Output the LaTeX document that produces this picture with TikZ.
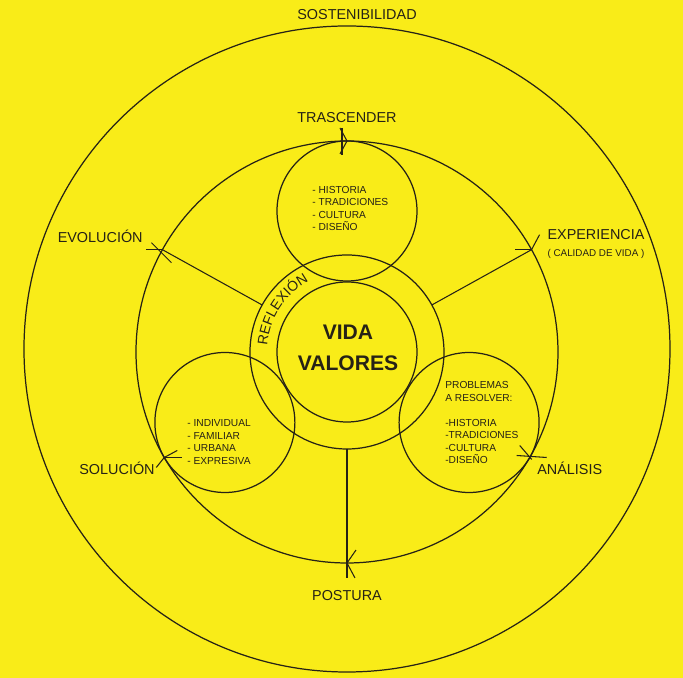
\documentclass[tikz,border=0pt]{standalone}
\usepackage{fontspec}
\setmainfont{Liberation Sans}
\usetikzlibrary{decorations.text}

\definecolor{paper}{RGB}{249,236,24}
\definecolor{ink}{RGB}{38,34,22}

\tikzset{
  circ/.style={circle, draw=ink, line width=0.7pt, inner sep=0pt, outer sep=0pt},
  tick/.style={draw=ink, line width=0.6pt},
  lbl/.style={text=ink, inner sep=0pt, font=\fontsize{8.2}{10}\selectfont},
  lst/.style={text=ink, inner sep=0pt, align=left, anchor=north west, font=\fontsize{5.8}{7.1}\selectfont}
}

\begin{document}
\begin{tikzpicture}[x=0.2mm, y=0.2mm]
    % Background
    \fill[paper] (-347,-326) rectangle (336,352);
    \useasboundingbox (-347,-326) rectangle (336,352);

    % Circles
    \node[circ, minimum size=129.2mm] (outer) at (0,3) {};
    \node[circ, minimum size=84.4mm] (mid) at (0,0) {};
    \node[circ, minimum size=38.8mm] (ring) at (0,0) {};
    \node[circ, minimum size=28mm] (core) at (0,0) {};
    \foreach \a/\n in {90/sTop, 210/sLeft, 330/sRight}
        \node[circ, minimum size=28mm] (\n) at (\a:141) {};

    % Spokes
    \foreach \a in {151, 29}
        \draw[tick] (ring.\a) -- (mid.\a);
    \draw[tick] (ring.270) -- (mid.270) -- ++(0,-15);

    % Arrow marks on the circle
    \draw[tick] ([shift={(-5,13)}]mid.90) -- ++(0,-27);
    \draw[tick] ([shift={(-7,13)}]mid.90) -- (mid.90) -- ++(-7,-13);
    \draw[tick] (mid.151) -- ++(-16,0);
    \draw[tick] ([shift={(-11,7)}]mid.151) -- ++(20,-20);
    \draw[tick] (mid.29) -- ++(-17,0);
    \draw[tick] (mid.29) -- ++(8,15);
    \draw[tick] ([shift={(-13,2)}]mid.330) -- ++(30,-2);
    \draw[tick] ([shift={(-10,12)}]mid.330) -- ++(12,-14);
    \draw[tick] ([shift={(-8,-10)}]mid.210) -- (mid.210) -- ++(13,7);
    \draw[tick] (mid.210) -- ++(18,0);
    \draw[tick] ([shift={(9,13)}]mid.270) -- (mid.270) -- ++(8,-15);

    % Labels
    \node[lbl, anchor=base] (lSost) at (10,332) {SOSTENIBILIDAD};
    \node[lbl, anchor=base] (lTras) at (0,229) {TRASCENDER};
    \node[lbl, anchor=base east] (lEvol) at (-204,109) {EVOLUCIÓN};
    \node[lbl, anchor=base] (lExpe) at (249,112) {EXPERIENCIA};
    \node[lbl, anchor=base, font=\fontsize{5.6}{7}\selectfont] (lCali) at (249,95.5) {( CALIDAD DE VIDA )};
    \node[lbl, anchor=base east] (lSolu) at (-192,-123) {SOLUCIÓN};
    \node[lbl, anchor=base west] (lAnal) at (190,-123) {ANÁLISIS};
    \node[lbl, anchor=base] (lPost) at (0,-249) {POSTURA};

    % Centre
    \node[text=ink, inner sep=0pt, align=center, font=\fontsize{12}{17.6}\selectfont\bfseries] (lVida) at (1,4.5) {VIDA\\VALORES};
    \path[decorate, decoration={text along path, text align=center, text color=ink,
        text={|\fontsize{8}{8}\selectfont|REFLEXIÓN}}]
        (177:80) arc[start angle=177, end angle=117, radius=80];

    % Lists inside the small circles
    \node[lst] (lTop) at (-35,166) {- HISTORIA\\- TRADICIONES\\- CULTURA\\- DISEÑO};
    \node[lst] (lLeft) at (-160,-67.3) {- INDIVIDUAL\\- FAMILIAR\\- URBANA\\- EXPRESIVA};
    \node[lst] (lRight) at (98,-29.3) {PROBLEMAS\\A RESOLVER:\\[7.1pt]-HISTORIA\\-TRADICIONES\\-CULTURA\\-DISEÑO};
\end{tikzpicture}
\end{document}
